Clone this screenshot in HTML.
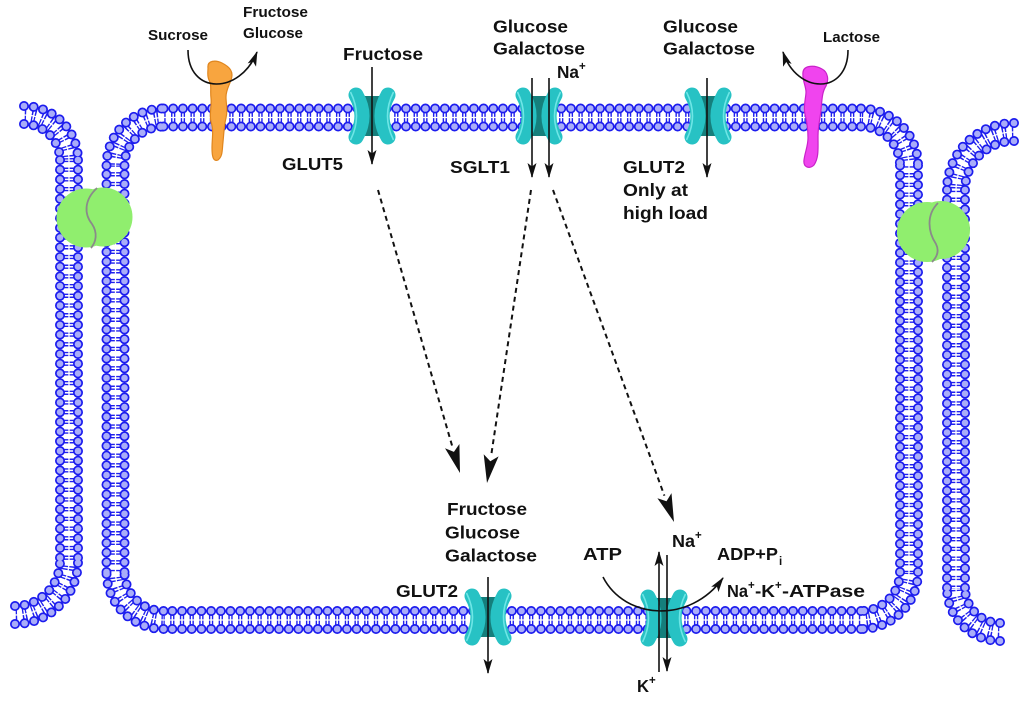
<!DOCTYPE html>
<html>
<head>
<meta charset="utf-8">
<style>
html,body{margin:0;padding:0;background:#fff;}
svg{display:block;}
text{font-family:"Liberation Sans",Arial,sans-serif;font-weight:bold;fill:#111;}
.s{font-size:15px;}
.l{font-size:17.5px;}
.sup{font-size:11.5px;}
</style>
</head>
<body>
<svg width="1024" height="701" viewBox="0 0 1024 701" xmlns="http://www.w3.org/2000/svg">
<defs>
  <marker id="ah" viewBox="0 0 15 10" refX="14" refY="5" markerWidth="15" markerHeight="10" markerUnits="userSpaceOnUse" orient="auto">
    <path d="M0,0.5 L15,5 L0,9.5 L3.5,5 Z" fill="#111"/>
  </marker>
  <path id="mc" d="M163.5,117.5H861 M861,117.5A48,48 0 0 1 909,165.5 M909,165.5V572 M909,572A48,48 0 0 1 861,620 M861,620H163.5 M163.5,620A48,48 0 0 1 115.5,572 M115.5,572V165.5 M115.5,165.5A48,48 0 0 1 163.5,117.5
  M24,115A45,45 0 0 1 69,160 M69,160V561 M15,615A54,54 0 0 0 69,561
  M1014,132A58,58 0 0 0 956,190 M956,190V588 M1000,632A44,44 0 0 1 956,588"/>
  <path id="mr" d="M163.5,108.5H861 M861,108.5A57,57 0 0 1 918,165.5 M918,165.5V572 M918,572A57,57 0 0 1 861,629 M861,629H163.5 M163.5,629A57,57 0 0 1 106.5,572 M106.5,572V165.5 M106.5,165.5A57,57 0 0 1 163.5,108.5
  M163.5,126.5H861 M861,126.5A39,39 0 0 1 900,165.5 M900,165.5V572 M900,572A39,39 0 0 1 861,611 M861,611H163.5 M163.5,611A39,39 0 0 1 124.5,572 M124.5,572V165.5 M124.5,165.5A39,39 0 0 1 163.5,126.5
  M24,106A54,54 0 0 1 78,160 M78,160V561 M15,624A63,63 0 0 0 78,561
  M24,124A36,36 0 0 1 60,160 M60,160V561 M15,606A45,45 0 0 0 60,561
  M1014,123A67,67 0 0 0 947,190 M947,190V588 M1000,641A53,53 0 0 1 947,588
  M1014,141A49,49 0 0 0 965,190 M965,190V588 M1000,623A35,35 0 0 1 965,588"/>
  <g id="ch">
    <rect x="-12" y="-20" width="24" height="40" fill="#157f7c"/>
    <path d="M-16,-21 Q-4,0 -16,21" stroke="#27c2c4" stroke-width="15" stroke-linecap="round" fill="none"/>
    <path d="M16,-21 Q4,0 16,21" stroke="#27c2c4" stroke-width="15" stroke-linecap="round" fill="none"/>
    <path d="M-21.5,-24 Q-9.5,0 -21.5,24" stroke="#6ee6e6" stroke-width="1.6" fill="none"/>
    <path d="M21.5,-24 Q9.5,0 21.5,24" stroke="#6ee6e6" stroke-width="1.6" fill="none"/>
  </g>
</defs>

<!-- membranes -->
<use href="#mc" fill="none" stroke="#2020ee" stroke-width="18" stroke-dasharray="1.4 1.5 1.4 5.4" stroke-dashoffset="2.15"/>
<use href="#mc" fill="none" stroke="#ffffff" stroke-width="1.3"/>
<use href="#mr" fill="none" stroke="#1c1cee" stroke-width="10" stroke-dasharray="0 9.7" stroke-linecap="round"/>
<use href="#mr" fill="none" stroke="#a9adf9" stroke-width="6.6" stroke-dasharray="0 9.7" stroke-linecap="round"/>

<!-- tight junctions -->
<circle cx="86" cy="218" r="29.5" fill="#90ee6e"/>
<circle cx="103" cy="217" r="29.5" fill="#90ee6e"/>
<path d="M97,188 C84,200 84,214 92,224 C98,233 96,242 91,248" stroke="#8a8a8a" stroke-width="1.8" fill="none"/>
<circle cx="927" cy="232" r="30" fill="#90ee6e"/>
<circle cx="941" cy="230" r="29" fill="#90ee6e"/>
<path d="M938,203 C926,215 928,232 936,244 C940,252 936,258 932,262" stroke="#8a8a8a" stroke-width="1.8" fill="none"/>

<!-- channels -->
<use href="#ch" transform="translate(372,116)"/>
<use href="#ch" transform="translate(539,116)"/>
<use href="#ch" transform="translate(708,116)"/>
<use href="#ch" transform="translate(488,617)"/>
<use href="#ch" transform="translate(664,618)"/>

<!-- sucrase (orange) -->
<path d="M208,68 C207,60 216,60 222,63 C230,67 234,72 231,80 C229,86 226,90 226,97 C226,104 228,110 226,118 C224,126 224,132 223,142 C222,150 223,156 218,160 C213,162 212,156 212,148 C212,138 214,130 211,122 C209,114 212,106 211,98 C210,90 212,86 209,80 C207,76 208,72 208,68 Z" fill="#f8a53f" stroke="#e0861e" stroke-width="1.2"/>
<!-- lactase (magenta) -->
<path d="M803,72 C804,65 815,65 822,69 C828,72 829,80 826,86 C822,92 822,100 821,110 C820,120 818,126 818,136 C818,148 819,158 814,165 C810,169 803,168 804,160 C805,152 808,146 808,138 C808,128 807,122 805,114 C803,106 806,98 806,92 C806,86 802,80 803,72 Z" fill="#f044ee" stroke="#c922c9" stroke-width="1.2"/>

<!-- solid arrows -->
<g stroke="#111" stroke-width="1.6" fill="none" marker-end="url(#ah)">
  <line x1="372" y1="67" x2="372" y2="164"/>
  <line x1="532" y1="78" x2="532" y2="177"/>
  <line x1="549" y1="78" x2="549" y2="177"/>
  <line x1="707" y1="78" x2="707" y2="177"/>
  <line x1="488" y1="577" x2="488" y2="673"/>
  <line x1="659" y1="672" x2="659" y2="552"/>
  <line x1="667" y1="555" x2="667" y2="671"/>
  <path d="M188,50 C188,95 240,95 257,52"/>
  <path d="M848,50 C848,95 797,95 783,52"/>
  <path d="M603,577 C625,620 690,624 723,578"/>
</g>

<!-- dashed arrows -->
<g stroke="#111" stroke-width="2" stroke-dasharray="5 4" fill="none">
  <line x1="378" y1="190" x2="452.2" y2="446.1"/>
  <line x1="531" y1="190" x2="491.2" y2="455.3"/>
  <line x1="553" y1="190" x2="664.4" y2="495.7"/>
</g>
<g fill="#111">
  <polygon points="460,473 445,448.2 453.9,451.9 459.4,444"/>
  <polygon points="487,483 483.7,454.2 490.3,461.2 498.6,456.4"/>
  <polygon points="674,522 657.4,498.3 666.5,501.3 671.5,493.1"/>
</g>

<!-- labels -->
<text class="s" x="148" y="40" textLength="60" lengthAdjust="spacingAndGlyphs">Sucrose</text>
<text class="s" x="243" y="17" textLength="65" lengthAdjust="spacingAndGlyphs">Fructose</text>
<text class="s" x="243" y="38" textLength="60" lengthAdjust="spacingAndGlyphs">Glucose</text>
<text class="s" x="823" y="42" textLength="57" lengthAdjust="spacingAndGlyphs">Lactose</text>

<text class="l" x="343" y="60" textLength="80" lengthAdjust="spacingAndGlyphs">Fructose</text>
<text class="l" x="282" y="170" textLength="61" lengthAdjust="spacingAndGlyphs">GLUT5</text>

<text class="l" x="493" y="32.5" textLength="75" lengthAdjust="spacingAndGlyphs">Glucose</text>
<text class="l" x="493" y="54.5" textLength="92" lengthAdjust="spacingAndGlyphs">Galactose</text>
<text class="l" x="557" y="78" textLength="22" lengthAdjust="spacingAndGlyphs">Na</text>
<text class="sup" x="579" y="70">+</text>
<text class="l" x="450" y="173" textLength="60" lengthAdjust="spacingAndGlyphs">SGLT1</text>

<text class="l" x="663" y="32.5" textLength="75" lengthAdjust="spacingAndGlyphs">Glucose</text>
<text class="l" x="663" y="54.5" textLength="92" lengthAdjust="spacingAndGlyphs">Galactose</text>
<text class="l" x="623" y="173" textLength="62" lengthAdjust="spacingAndGlyphs">GLUT2</text>
<text class="l" x="623" y="196" textLength="65" lengthAdjust="spacingAndGlyphs">Only at</text>
<text class="l" x="623" y="219" textLength="85" lengthAdjust="spacingAndGlyphs">high load</text>

<text class="l" x="447" y="515" textLength="80" lengthAdjust="spacingAndGlyphs">Fructose</text>
<text class="l" x="445" y="538.5" textLength="75" lengthAdjust="spacingAndGlyphs">Glucose</text>
<text class="l" x="445" y="561.5" textLength="92" lengthAdjust="spacingAndGlyphs">Galactose</text>
<text class="l" x="396" y="597" textLength="62" lengthAdjust="spacingAndGlyphs">GLUT2</text>

<text class="l" x="583" y="560" textLength="39" lengthAdjust="spacingAndGlyphs">ATP</text>
<text class="l" x="672" y="547" textLength="23" lengthAdjust="spacingAndGlyphs">Na</text>
<text class="sup" x="695" y="539">+</text>
<text class="l" x="637" y="692" textLength="12" lengthAdjust="spacingAndGlyphs">K</text>
<text class="sup" x="649" y="684">+</text>
<text class="l" x="717" y="560" textLength="61" lengthAdjust="spacingAndGlyphs">ADP+P</text>
<text class="sup" x="779" y="565">i</text>
<text class="l" x="727" y="597" textLength="21" lengthAdjust="spacingAndGlyphs">Na</text>
<text class="sup" x="748" y="589">+</text>
<text class="l" x="755" y="597" textLength="20" lengthAdjust="spacingAndGlyphs">-K</text>
<text class="sup" x="775" y="589">+</text>
<text class="l" x="782" y="597" textLength="83" lengthAdjust="spacingAndGlyphs">-ATPase</text>
</svg>
</body>
</html>
